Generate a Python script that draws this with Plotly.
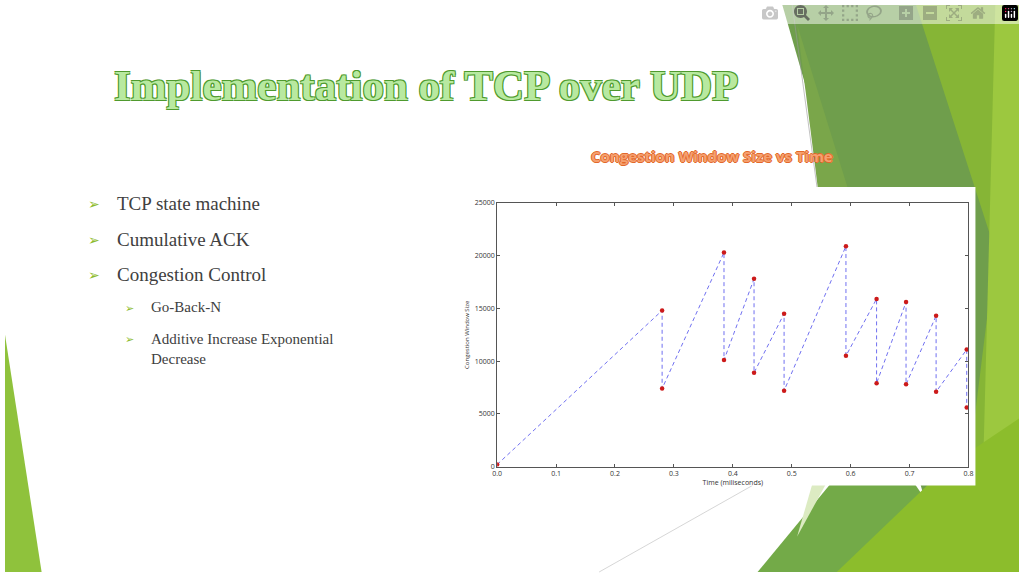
import plotly.graph_objects as go

# congestion window samples (time in ms, window size)
tempo = [0.0, 0.28, 0.28, 0.385, 0.385, 0.436, 0.436, 0.487, 0.487,
         0.592, 0.592, 0.644, 0.644, 0.694, 0.694, 0.745, 0.745, 0.797, 0.797]
janela = [200, 14800, 7400, 20300, 10100, 17800, 8900, 14500, 7200,
          20900, 10500, 15900, 7900, 15600, 7800, 14300, 7100, 11100, 5600]

xticks = [0.0, 0.1, 0.2, 0.3, 0.4, 0.5, 0.6, 0.7, 0.8]
yticks = [0, 5000, 10000, 15000, 20000, 25000]

bullets = ['TCP state machine', 'Cumulative ACK', 'Congestion Control']
subbullets = ['Go-Back-N', 'Additive Increase Exponential']
continuacao = 'Decrease'

W, H = 1024, 576

def px2paper(pts):
    return 'M ' + ' L '.join(f'{x / W:.4f},{1 - y / H:.4f}' for x, y in pts) + ' Z'

fig = go.Figure()
fig.add_trace(go.Scatter(x=tempo, y=janela, mode='lines',
                         line=dict(color='#7070f0', width=1, dash='4px,3px'),
                         hoverinfo='skip'))
fig.add_trace(go.Scatter(x=tempo, y=janela, mode='markers',
                         marker=dict(color='#cc1a1a', size=4.5)))

# slide decorations
shapes = []
decor = [
    ([(0, 335), (0, 576), (37, 576)], '#8fc23c'),
    ([(785, 0), (1024, 0), (1024, 576), (950, 576)], '#6f9e4c'),
    ([(920, 0), (1024, 0), (1024, 576), (960, 576), (1000, 250)], '#86b536'),
    ([(1000, 0), (1024, 0), (1024, 576), (985, 576)], '#9cc83f'),
    ([(800, 20), (880, 280), (900, 576), (870, 576)], '#7aa64a'),
    ([(760, 576), (880, 430), (980, 576)], '#73aa48'),
    ([(840, 576), (950, 470), (1024, 420), (1024, 576)], '#8cbd2c'),
    ([(820, 470), (860, 430), (800, 540)], '#dcebc2'),
]
for pts, col in decor:
    shapes.append(dict(type='path', path=px2paper(pts), xref='paper', yref='paper',
                       fillcolor=col, line=dict(width=0), layer='below'))
shapes.append(dict(type='line', xref='paper', yref='paper', x0=795 / W, y0=1,
                   x1=820 / W, y1=1 - 185 / H, line=dict(color='#999999', width=0.6), layer='below'))
shapes.append(dict(type='line', xref='paper', yref='paper', x0=755 / W, y0=1 - 488 / H,
                   x1=600 / W, y1=0, line=dict(color='#bbbbbb', width=0.6), layer='below'))
shapes.append(dict(type='rect', xref='paper', yref='paper', x0=458 / W, x1=980 / W,
                   y0=1 - 488 / H, y1=1 - 185 / H, fillcolor='white', line=dict(width=0),
                   layer='below'))

contorno = '1px 1px 0 #4f9a2e, -1px -1px 0 #4f9a2e, 1px -1px 0 #4f9a2e, -1px 1px 0 #4f9a2e'
ann = [
    dict(text='<b>Implementation of TCP over UDP</b>', x=108 / W, y=1 - 82 / H,
         xanchor='left', font=dict(family='Liberation Serif', size=43, color='#b8e9a0',
                                   shadow=contorno)),
    dict(text='<b>Congestion Window Size vs Time</b>', x=838 / W, y=1 - 153 / H,
         xanchor='right', font=dict(family='Open Sans', size=15, color='#f5a070',
                                    shadow='1px 0 0 #e2682a, -1px 0 0 #e2682a, 0 1px 0 #e2682a, 0 -1px 0 #e2682a')),
]
for i, t in enumerate(bullets):
    yy = 1 - (202 + 36 * i) / H
    ann.append(dict(text='➢', x=82 / W, y=yy, xanchor='left',
                    font=dict(size=14, color='#8dbb2d')))
    ann.append(dict(text=t, x=111 / W, y=yy, xanchor='left',
                    font=dict(family='Liberation Serif', size=19, color='#404040')))
for i, t in enumerate(subbullets):
    yy = 1 - (307 + 32 * i) / H
    ann.append(dict(text='➢', x=119 / W, y=yy, xanchor='left',
                    font=dict(size=11, color='#8dbb2d')))
    ann.append(dict(text=t, x=145 / W, y=yy, xanchor='left',
                    font=dict(family='Liberation Serif', size=15, color='#404040')))
ann.append(dict(text=continuacao, x=145 / W, y=1 - 360 / H, xanchor='left',
                font=dict(family='Liberation Serif', size=15, color='#404040')))
for a in ann:
    a.update(xref='paper', yref='paper', showarrow=False, yanchor='middle')

axis_common = dict(showgrid=False, zeroline=False, showline=True, linecolor='#555555',
                   linewidth=1, mirror='ticks', ticks='inside', ticklen=3,
                   tickcolor='#555555', tickfont=dict(size=7, color='#333333'))
fig.update_layout(
    width=W, height=H, margin=dict(l=0, r=0, t=0, b=0),
    paper_bgcolor='white', plot_bgcolor='rgba(0,0,0,0)', showlegend=False,
    shapes=shapes, annotations=ann,
    xaxis=dict(domain=[497 / W, 973 / W], range=[0, 0.8], tickvals=xticks,
               ticktext=[f'{v:.1f}' for v in xticks],
               title=dict(text='Time (miliseconds)', font=dict(size=7, color='#333333'),
                          standoff=2), **axis_common),
    yaxis=dict(domain=[1 - 469 / H, 1 - 201 / H], range=[0, 25000], tickvals=yticks,
               ticktext=[str(v) for v in yticks],
               title=dict(text='Congestion Window Size', font=dict(size=6, color='#333333'),
                          standoff=4), **axis_common),
)
fig.write_html('out.html',
               post_script="document.body.style.margin='0';document.body.style.overflow='hidden';")
